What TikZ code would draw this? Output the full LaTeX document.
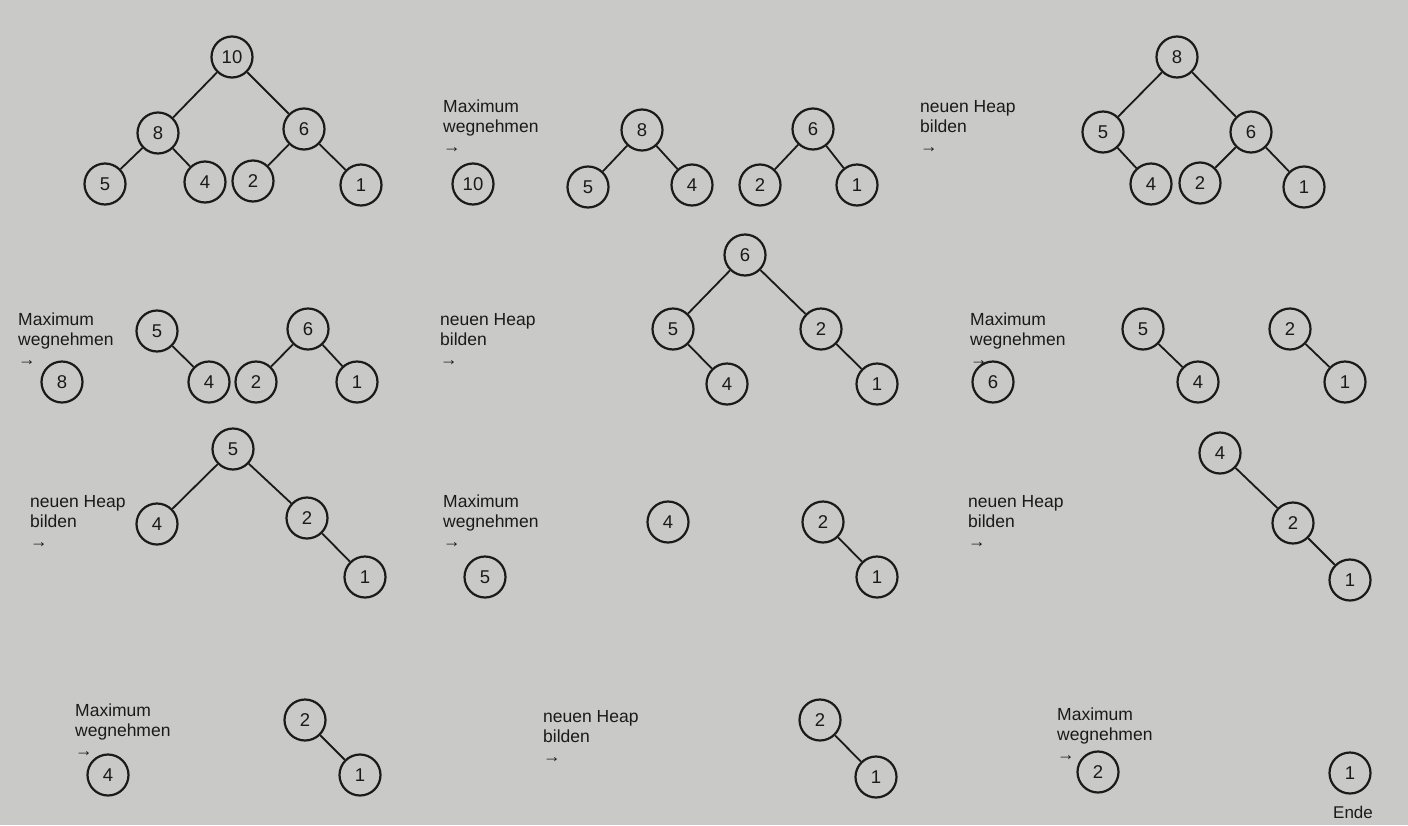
\documentclass[tikz,border=0pt]{standalone}
\usepackage{fontspec}
\setmainfont{Liberation Sans}
\definecolor{paper}{RGB}{201,201,199}
\definecolor{ink}{RGB}{26,26,26}
\begin{document}
\begin{tikzpicture}[x=1pt,y=-1pt,
  nd/.style={circle,draw=ink,line width=2.2pt,minimum size=41pt,inner sep=0pt,text=ink,font=\fontsize{18.5}{18.5}\selectfont},
  lbl/.style={anchor=base west,align=left,inner sep=0pt,text=ink,font=\fontsize{17.5}{20}\selectfont},
  ed/.style={draw=ink,line width=1.8pt}]
\fill[paper] (0,0) rectangle (1408,825);
\useasboundingbox (0,0) rectangle (1408,825);
% ---- Row 1
\node[nd] (a10) at (232,57) {10};
\node[nd] (a8) at (158,133) {8};
\node[nd] (a6) at (304,129) {6};
\node[nd] (a5) at (105,184) {5};
\node[nd] (a4) at (205,182) {4};
\node[nd] (a2) at (253,181) {2};
\node[nd] (a1) at (361,185) {1};
\draw[ed] (a10)--(a8) (a10)--(a6) (a8)--(a5) (a8)--(a4) (a6)--(a2) (a6)--(a1);
\node[lbl] (t1) at (443,152) {Maximum\\wegnehmen\\→};
\node[nd] (b10) at (473,184) {10};
\node[nd] (b8) at (642,130) {8};
\node[nd] (b5) at (588,187) {5};
\node[nd] (b4) at (692,185) {4};
\node[nd] (b6) at (813,129) {6};
\node[nd] (b2) at (760,185) {2};
\node[nd] (b1) at (857,185) {1};
\draw[ed] (b8)--(b5) (b8)--(b4) (b6)--(b2) (b6)--(b1);
\node[lbl] (t2) at (920,152) {neuen Heap\\bilden\\→};
\node[nd] (c8) at (1177,57) {8};
\node[nd] (c5) at (1103,132) {5};
\node[nd] (c6) at (1251,132) {6};
\node[nd] (c4) at (1151,184) {4};
\node[nd] (c2) at (1200,183) {2};
\node[nd] (c1) at (1304,187) {1};
\draw[ed] (c8)--(c5) (c8)--(c6) (c5)--(c4) (c6)--(c2) (c6)--(c1);
% ---- Row 2
\node[lbl] (t3) at (18,365) {Maximum\\wegnehmen\\→};
\node[nd] (d8) at (62,382) {8};
\node[nd] (d5) at (157,331) {5};
\node[nd] (d4) at (209,382) {4};
\node[nd] (d6) at (308,329) {6};
\node[nd] (d2) at (256,382) {2};
\node[nd] (d1) at (357,382) {1};
\draw[ed] (d5)--(d4) (d6)--(d2) (d6)--(d1);
\node[lbl] (t4) at (440,365) {neuen Heap\\bilden\\→};
\node[nd] (e6) at (745,255) {6};
\node[nd] (e5) at (673,329) {5};
\node[nd] (e2) at (821,329) {2};
\node[nd] (e4) at (727,384) {4};
\node[nd] (e1) at (877,384) {1};
\draw[ed] (e6)--(e5) (e6)--(e2) (e5)--(e4) (e2)--(e1);
\node[lbl] (t5) at (970,365) {Maximum\\wegnehmen\\→};
\node[nd] (f6) at (993,382) {6};
\node[nd] (f5) at (1143,329) {5};
\node[nd] (f4) at (1198,382) {4};
\node[nd] (f2) at (1290,329) {2};
\node[nd] (f1) at (1345,382) {1};
\draw[ed] (f5)--(f4) (f2)--(f1);
% ---- Row 3
\node[lbl] (t6) at (30,547) {neuen Heap\\bilden\\→};
\node[nd] (g5) at (233,449) {5};
\node[nd] (g4) at (157,524) {4};
\node[nd] (g2) at (307,518) {2};
\node[nd] (g1) at (365,577) {1};
\draw[ed] (g5)--(g4) (g5)--(g2) (g2)--(g1);
\node[lbl] (t7) at (443,547) {Maximum\\wegnehmen\\→};
\node[nd] (h5) at (485,577) {5};
\node[nd] (h4) at (668,522) {4};
\node[nd] (h2) at (823,522) {2};
\node[nd] (h1) at (877,577) {1};
\draw[ed] (h2)--(h1);
\node[lbl] (t8) at (968,547) {neuen Heap\\bilden\\→};
\node[nd] (i4) at (1220,453) {4};
\node[nd] (i2) at (1293,523) {2};
\node[nd] (i1) at (1350,580) {1};
\draw[ed] (i4)--(i2) (i2)--(i1);
% ---- Row 4
\node[lbl] (t9) at (75,756) {Maximum\\wegnehmen\\→};
\node[nd] (j4) at (108,775) {4};
\node[nd] (j2) at (305,720) {2};
\node[nd] (j1) at (360,775) {1};
\draw[ed] (j2)--(j1);
\node[lbl] (t10) at (543,762) {neuen Heap\\bilden\\→};
\node[nd] (k2) at (820,720) {2};
\node[nd] (k1) at (876,777) {1};
\draw[ed] (k2)--(k1);
\node[lbl] (t11) at (1057,760) {Maximum\\wegnehmen\\→};
\node[nd] (l2) at (1098,772) {2};
\node[nd] (l1) at (1350,773) {1};
\node[anchor=base,inner sep=0pt,text=ink,font=\fontsize{17}{17}\selectfont] (ende) at (1353,818) {Ende};
\end{tikzpicture}
\end{document}
